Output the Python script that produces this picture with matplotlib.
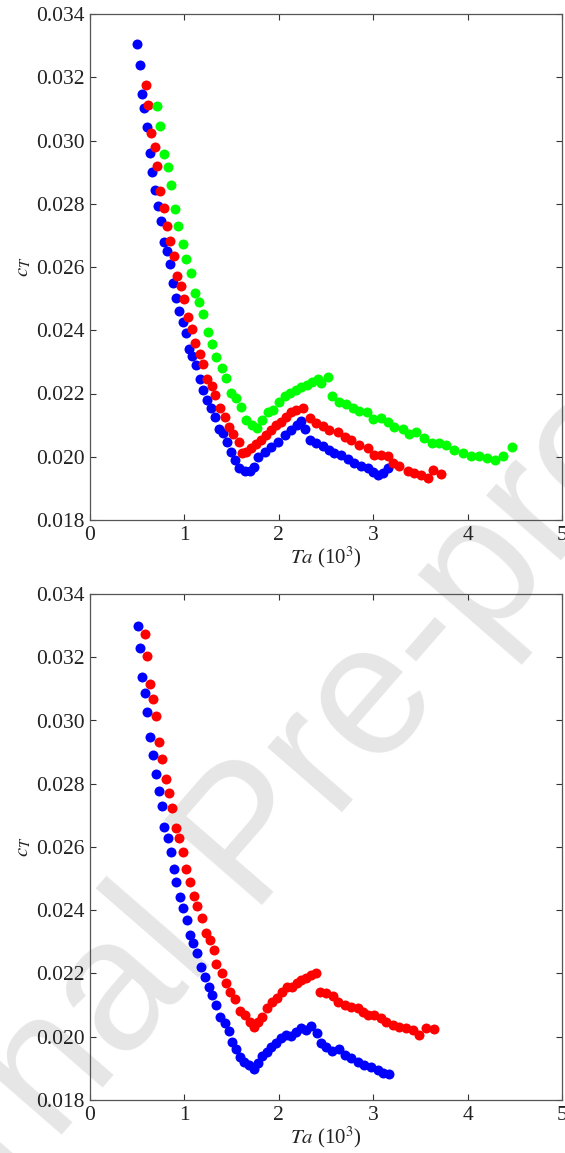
import matplotlib
matplotlib.use("Agg")
import matplotlib.pyplot as plt

plt.rcParams['font.family'] = ['Liberation Serif', 'DejaVu Serif']
plt.rcParams['mathtext.fontset'] = 'stix'

# ---------------- top panel ----------------
top_blue_x = [0.500, 0.525, 0.550, 0.574, 0.606, 0.631, 0.662, 0.690, 0.719, 0.750,
              0.782, 0.814, 0.846, 0.874, 0.912, 0.948, 0.983, 1.018, 1.054, 1.085,
              1.124, 1.163, 1.202, 1.240, 1.283, 1.325, 1.364, 1.409, 1.448, 1.498,
              1.536, 1.578, 1.638, 1.690, 1.734, 1.779, 1.850, 1.920, 1.990, 2.061,
              2.132, 2.190, 2.238, 2.273, 2.326, 2.396, 2.466, 2.537, 2.590, 2.660,
              2.731, 2.801, 2.872, 2.942, 2.995, 3.048, 3.101, 3.154]
top_blue_y = [0.03305, 0.03238, 0.03148, 0.03102, 0.03043, 0.02961, 0.02900, 0.02843, 0.02794, 0.02744,
              0.02680, 0.02651, 0.02609, 0.02548, 0.02503, 0.02462, 0.02426, 0.02390, 0.02341, 0.02320,
              0.02290, 0.02245, 0.02211, 0.02180, 0.02155, 0.02127, 0.02088, 0.02074, 0.02048, 0.02015,
              0.01990, 0.01965, 0.01955, 0.01955, 0.01967, 0.01998, 0.02016, 0.02032, 0.02048, 0.02069,
              0.02085, 0.02100, 0.02114, 0.02087, 0.02053, 0.02042, 0.02034, 0.02022, 0.02013, 0.02005,
              0.01992, 0.01979, 0.01971, 0.01965, 0.01953, 0.01942, 0.01948, 0.01963]

top_red_x = [0.592, 0.617, 0.648, 0.684, 0.712, 0.743, 0.782, 0.814, 0.849, 0.888,
             0.923, 0.965, 0.997, 1.033, 1.078, 1.117, 1.163, 1.198, 1.237, 1.290,
             1.329, 1.378, 1.427, 1.473, 1.519, 1.575, 1.610, 1.656, 1.709, 1.762,
             1.815, 1.868, 1.920, 1.973, 2.026, 2.079, 2.132, 2.185, 2.255, 2.326,
             2.396, 2.466, 2.537, 2.625, 2.696, 2.766, 2.854, 2.942, 3.013, 3.083,
             3.154, 3.206, 3.277, 3.365, 3.436, 3.506, 3.576, 3.636, 3.718]
top_red_y = [0.03176, 0.03113, 0.03024, 0.02979, 0.02919, 0.02841, 0.02787, 0.02730, 0.02683, 0.02635,
             0.02572, 0.02541, 0.02500, 0.02443, 0.02404, 0.02361, 0.02326, 0.02294, 0.02247, 0.02225,
             0.02195, 0.02153, 0.02127, 0.02095, 0.02071, 0.02046, 0.02013, 0.02016, 0.02027, 0.02039,
             0.02053, 0.02069, 0.02085, 0.02100, 0.02111, 0.02127, 0.02140, 0.02148, 0.02153, 0.02122,
             0.02108, 0.02096, 0.02086, 0.02079, 0.02063, 0.02053, 0.02037, 0.02027, 0.02006, 0.02006,
             0.02001, 0.01979, 0.01971, 0.01955, 0.01948, 0.01942, 0.01934, 0.01958, 0.01944]

top_green_x = [0.708, 0.743, 0.786, 0.821, 0.860, 0.899, 0.937, 0.983, 1.022, 1.068,
               1.113, 1.159, 1.202, 1.251, 1.297, 1.339, 1.395, 1.438, 1.498, 1.551,
               1.603, 1.656, 1.716, 1.769, 1.821, 1.885, 1.938, 2.001, 2.061, 2.121,
               2.178, 2.238, 2.297, 2.354, 2.413, 2.449, 2.519, 2.565, 2.643, 2.713,
               2.784, 2.854, 2.932, 3.002, 3.083, 3.154, 3.224, 3.312, 3.383, 3.453,
               3.541, 3.622, 3.692, 3.770, 3.858, 3.946, 4.035, 4.123, 4.210, 4.292,
               4.376, 4.468]
top_green_y = [0.03108, 0.03047, 0.02957, 0.02917, 0.02860, 0.02782, 0.02730, 0.02672, 0.02626, 0.02582,
               0.02519, 0.02489, 0.02451, 0.02393, 0.02357, 0.02314, 0.02282, 0.02250, 0.02201, 0.02185,
               0.02158, 0.02116, 0.02100, 0.02090, 0.02116, 0.02142, 0.02148, 0.02174, 0.02192, 0.02201,
               0.02211, 0.02222, 0.02227, 0.02237, 0.02245, 0.02232, 0.02251, 0.02192, 0.02174, 0.02167,
               0.02153, 0.02146, 0.02140, 0.02118, 0.02122, 0.02111, 0.02095, 0.02088, 0.02072, 0.02079,
               0.02058, 0.02042, 0.02042, 0.02037, 0.02021, 0.02011, 0.02002, 0.02002, 0.01995, 0.01990,
               0.02002, 0.02030]

# ---------------- bottom panel ----------------
bot_blue_x = [0.504, 0.529, 0.553, 0.581, 0.609, 0.638, 0.666, 0.698, 0.726, 0.758,
              0.789, 0.821, 0.853, 0.891, 0.916, 0.951, 0.990, 1.025, 1.057, 1.092,
              1.134, 1.177, 1.219, 1.261, 1.297, 1.339, 1.374, 1.427, 1.469, 1.508,
              1.543, 1.586, 1.631, 1.684, 1.734, 1.779, 1.825, 1.874, 1.920, 1.973,
              2.026, 2.079, 2.132, 2.185, 2.238, 2.290, 2.343, 2.403, 2.449, 2.502,
              2.565, 2.636, 2.696, 2.766, 2.836, 2.907, 2.978, 3.048, 3.108, 3.171]
bot_blue_y = [0.03299, 0.03228, 0.03137, 0.03088, 0.03027, 0.02948, 0.02891, 0.02830, 0.02778, 0.02730,
              0.02664, 0.02630, 0.02585, 0.02530, 0.02490, 0.02443, 0.02407, 0.02369, 0.02322, 0.02297,
              0.02264, 0.02220, 0.02190, 0.02158, 0.02132, 0.02100, 0.02063, 0.02044, 0.02019, 0.01984,
              0.01960, 0.01937, 0.01921, 0.01911, 0.01898, 0.01918, 0.01939, 0.01953, 0.01969, 0.01979,
              0.01995, 0.02006, 0.02002, 0.02016, 0.02027, 0.02021, 0.02035, 0.02013, 0.01981, 0.01969,
              0.01956, 0.01960, 0.01942, 0.01932, 0.01921, 0.01911, 0.01905, 0.01895, 0.01884, 0.01881]

bot_red_x = [0.581, 0.609, 0.638, 0.670, 0.701, 0.733, 0.768, 0.800, 0.832, 0.870,
             0.906, 0.941, 0.980, 1.022, 1.057, 1.099, 1.134, 1.184, 1.226, 1.276,
             1.311, 1.339, 1.403, 1.445, 1.487, 1.533, 1.586, 1.638, 1.691, 1.734,
             1.779, 1.825, 1.878, 1.931, 1.984, 2.037, 2.090, 2.143, 2.192, 2.238,
             2.290, 2.343, 2.392, 2.439, 2.502, 2.572, 2.625, 2.696, 2.766, 2.836,
             2.889, 2.942, 3.013, 3.083, 3.136, 3.206, 3.277, 3.348, 3.418, 3.488,
             3.559, 3.647]
bot_red_y = [0.03274, 0.03204, 0.03114, 0.03069, 0.03013, 0.02933, 0.02877, 0.02816, 0.02770, 0.02723,
             0.02659, 0.02627, 0.02585, 0.02530, 0.02490, 0.02445, 0.02413, 0.02377, 0.02327, 0.02306,
             0.02274, 0.02230, 0.02202, 0.02170, 0.02142, 0.02118, 0.02082, 0.02069, 0.02048, 0.02030,
             0.02048, 0.02063, 0.02090, 0.02111, 0.02122, 0.02142, 0.02158, 0.02158, 0.02169, 0.02180,
             0.02185, 0.02195, 0.02201, 0.02142, 0.02137, 0.02130, 0.02111, 0.02100, 0.02095, 0.02090,
             0.02079, 0.02069, 0.02069, 0.02058, 0.02048, 0.02037, 0.02032, 0.02027, 0.02021, 0.02006,
             0.02027, 0.02024]

x_ticks = [0, 1, 2, 3, 4, 5]
y_ticks = [0.018, 0.020, 0.022, 0.024, 0.026, 0.028, 0.030, 0.032, 0.034]
y_ticklabels = ['0.018', '0.020', '0.022', '0.024', '0.026', '0.028', '0.030', '0.032', '0.034']

W, H = 565, 1153
fig = plt.figure(figsize=(W / 100, H / 100), dpi=100)

# watermark behind the axes (the reference page is stamped with it)
wm = fig.text(253 / W, 1 - 841 / H, 'Journal Pre-proof', rotation=49, fontsize=135,
              color='#e6e6e6', ha='center', va='center', family='Liberation Sans',
              zorder=-5)

def make_axes(top_px, series):
    left = 90 / W
    width = (562 - 90) / W
    height = 506 / H
    bottom = 1 - (top_px + 506) / H
    ax = fig.add_axes([left, bottom, width, height])
    ax.set_facecolor('none')
    for xs, ys, c in series:
        ax.plot(xs, ys, 'o', color=c, markersize=7.2, markeredgewidth=0, zorder=3)
    ax.set_xlim(0, 5)
    ax.set_ylim(0.018, 0.034)
    ax.set_xticks(x_ticks)
    ax.set_xticklabels([str(t) for t in x_ticks])
    ax.set_yticks(y_ticks)
    ax.set_yticklabels(y_ticklabels)
    ax.tick_params(direction='in', top=True, right=True, length=4, width=0.8,
                   colors='#333333', labelsize=15.5, labelcolor='#222222', pad=4)
    for s in ax.spines.values():
        s.set_color('#555555')
        s.set_linewidth(0.9)
    ax.set_xlabel(r'$\mathit{Ta}$ (10$^3$)', fontsize=15, color='#222222', labelpad=0)
    ax.set_ylabel(r'$c_T$', fontsize=15, color='#222222', labelpad=2)
    return ax

make_axes(14, [(top_blue_x, top_blue_y, '#0000ff'),
               (top_red_x, top_red_y, '#ff0000'),
               (top_green_x, top_green_y, '#00ff00')])
make_axes(594, [(bot_blue_x, bot_blue_y, '#0000ff'),
                (bot_red_x, bot_red_y, '#ff0000')])

fig.savefig('out.png', dpi=100)
